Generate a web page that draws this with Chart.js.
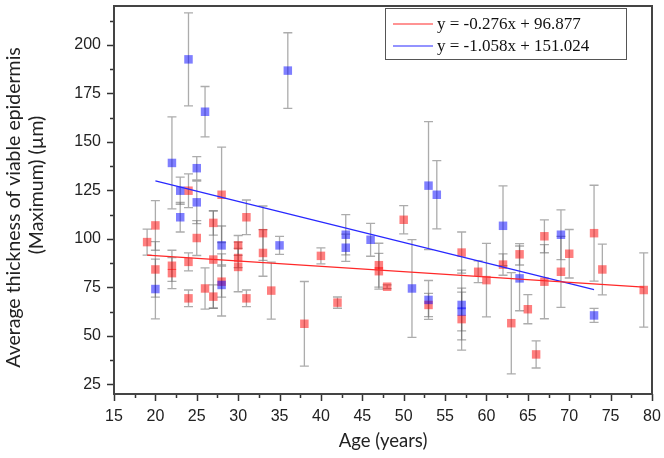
<!DOCTYPE html>
<html><head><meta charset="utf-8">
<script src="https://cdn.jsdelivr.net/npm/chart.js@4/dist/chart.umd.min.js"></script>
<style>html,body{margin:0;padding:0;background:#fff;}#wrap{width:664px;height:458px;}</style>
</head><body>
<div id="wrap"><canvas id="c" width="664" height="458"></canvas></div>
<script>
// ---- data ----
const redAges   = [19,20,20,22,22,24,24,24,25,26,27,27,27,28,28,30,30,30,31,31,33,33,34,38,40,42,47,47,48,50,53,57,57,59,60,62,63,64,65,66,67,67,69,70,73,74,79];
const redValues = [98.3,106.9,84.2,86.1,82.3,124.8,88.1,69.3,100.4,74.4,108.2,89.3,70.2,122.7,77.9,96.6,90.1,85.5,111.1,69.3,102.9,92.7,73.3,56.2,91.2,67.1,86.4,83.3,75.3,109.8,65.9,92.9,58.6,83.0,78.7,86.7,56.5,92.0,63.7,40.4,101.3,77.9,83.0,92.3,102.9,84.2,73.6];
const redErrors = [6.7,12.8,14.3,8,8,8.7,4.6,4.3,9,10.6,6.3,25,6,24.6,8,5.1,5,12.8,8.9,4.3,14,12,14.7,21.8,4.1,2.9,11.3,9.2,1,7.3,6,10.6,16,5.6,18.9,5.5,26.1,5.5,7.5,7,8.5,19.1,18.3,12.5,24.7,13.1,19.1];

const blueAges   = [20,22,23,23,24,25,25,26,28,28,35,36,43,43,46,51,53,53,54,57,57,62,64,69,73];
const blueValues = [74.1,139.1,124.8,111.1,192.5,136.4,118.8,165.5,96.6,76.2,96.6,186.7,102.1,95.4,99.5,74.4,127.4,68.5,122.7,65.9,62.5,106.7,79.6,102.1,60.5];
const blueErrors = [15.4,23.7,7,7.6,24,6,11,13,10,16,4.6,19.5,10.4,7,8.5,25.2,33,10,17.6,18,10,20.6,16.7,12.8,3.6];

const fitSlopes     = [-0.276, -1.058];
const fitIntercepts = [96.877, 151.024];
const fitStart      = [19, 20];
const fitEnd        = [79, 73];
const fitLabels     = ['y = -0.276x + 96.877', 'y = -1.058x + 151.024'];

const xTickValues = [15,20,25,30,35,40,45,50,55,60,65,70,75,80];
const yTickValues = [25,50,75,100,125,150,175,200];
const xTitle = 'Age (years)';
const yTitle = ['Average thickness of viable epidermis   ', '      (Maximum) (µm)'];

// ---- styles ----
const RED = 'rgba(255,0,0,0.5)', BLUE = 'rgba(0,0,255,0.5)';
const LINE_RED = 'rgb(255,40,40)', LINE_BLUE = 'rgb(40,40,255)';

const pts = (xs, ys) => xs.map((a, i) => ({x: a, y: ys[i]}));
const fitPts = k => [fitStart[k], fitEnd[k]].map(a => ({x: a, y: fitSlopes[k] * a + fitIntercepts[k]}));

const errorBars = {
  id: 'errorBars',
  beforeDatasetsDraw(chart) {
    const {ctx, scales: {x, y}, chartArea: ca} = chart;
    ctx.save();
    ctx.beginPath(); ctx.rect(ca.left, ca.top, ca.width, ca.height); ctx.clip();
    ctx.strokeStyle = 'rgba(90,90,90,0.5)';
    ctx.lineWidth = 1.3;
    const draw = (ages, vals, errs) => {
      ages.forEach((a, i) => {
        const px = x.getPixelForValue(a);
        const t = y.getPixelForValue(vals[i] + errs[i]);
        const b = y.getPixelForValue(vals[i] - errs[i]);
        ctx.beginPath();
        ctx.moveTo(px, t); ctx.lineTo(px, b);
        ctx.moveTo(px - 4.5, t); ctx.lineTo(px + 4.5, t);
        ctx.moveTo(px - 4.5, b); ctx.lineTo(px + 4.5, b);
        ctx.stroke();
      });
    };
    draw(redAges, redValues, redErrors);
    draw(blueAges, blueValues, blueErrors);
    ctx.restore();
  }
};

const frameAndTicks = {
  id: 'frameAndTicks',
  afterDraw(chart) {
    const {ctx, scales: {x, y}, chartArea: ca} = chart;
    ctx.save();
    ctx.strokeStyle = '#333';
    ctx.lineWidth = 1.5;
    ctx.beginPath();
    for (let v = x.min; v <= x.max + 1e-6; v += 2.5) {
      const px = Math.round(x.getPixelForValue(v)) + 0.5;
      const len = (Math.abs(v % 5) < 1e-6) ? 7 : 4;
      ctx.moveTo(px, ca.bottom); ctx.lineTo(px, ca.bottom + len);
    }
    for (let v = 25; v <= y.max + 1e-6; v += 12.5) {
      const py = Math.round(y.getPixelForValue(v)) + 0.5;
      const len = (Math.abs(v % 25) < 1e-6) ? 7 : 4;
      ctx.moveTo(ca.left, py); ctx.lineTo(ca.left - len, py);
    }
    ctx.stroke();
    ctx.strokeStyle = '#444';
    ctx.lineWidth = 2;
    ctx.strokeRect(ca.left, ca.top, ca.width, ca.height);
    // legend
    const lx = 385.5, ly = 8.5, lw = 241, lh = 51;
    ctx.fillStyle = '#fff';
    ctx.fillRect(lx, ly, lw, lh);
    ctx.lineWidth = 1;
    ctx.strokeStyle = '#555';
    ctx.strokeRect(lx, ly, lw, lh);
    const cols = [LINE_RED, LINE_BLUE];
    const rows = [24, 46];
    ctx.font = '17px "Liberation Serif", "Times New Roman", serif';
    ctx.textBaseline = 'middle';
    ctx.textAlign = 'left';
    rows.forEach((ry, k) => {
      ctx.strokeStyle = cols[k];
      ctx.lineWidth = 1.2;
      ctx.beginPath(); ctx.moveTo(393, ry); ctx.lineTo(433, ry); ctx.stroke();
      ctx.fillStyle = '#111';
      ctx.fillText(fitLabels[k], 437, ry + 1);
    });
    ctx.restore();
  }
};

new Chart(document.getElementById('c'), {
  type: 'scatter',
  data: {
    datasets: [
      {type: 'line', data: fitPts(0), borderColor: LINE_RED, borderWidth: 1.3, pointRadius: 0, fill: false, order: 1},
      {type: 'line', data: fitPts(1), borderColor: LINE_BLUE, borderWidth: 1.3, pointRadius: 0, fill: false, order: 1},
      {data: pts(blueAges, blueValues), backgroundColor: BLUE, borderWidth: 0, pointStyle: 'rect', pointRadius: 6, order: 2},
      {data: pts(redAges, redValues), backgroundColor: RED, borderWidth: 0, pointStyle: 'rect', pointRadius: 6, order: 2}
    ]
  },
  options: {
    responsive: false,
    animation: false,
    devicePixelRatio: 1,
    events: [],
    layout: {padding: {top: 2, right: 12, left: 0, bottom: 0}},
    plugins: {legend: {display: false}, tooltip: {enabled: false}},
    scales: {
      x: {
        type: 'linear', min: 15, max: 80,
        afterBuildTicks: s => { s.ticks = xTickValues.map(v => ({value: v})); },
        afterFit: s => { s.height = 64; s.paddingLeft = 0; s.paddingRight = 0; },
        grid: {display: true, drawOnChartArea: false, drawTicks: true, tickLength: 7, color: 'rgba(0,0,0,0)'},
        border: {display: false},
        ticks: {autoSkip: false, maxRotation: 0, padding: 6, color: '#222',
                font: {family: '"Liberation Sans", Arial, sans-serif', size: 16}},
        title: {display: true, text: xTitle, color: '#222', padding: {top: 0, bottom: 6},
                font: {family: 'Lato, "Open Sans", sans-serif', size: 18.5}}
      },
      y: {
        type: 'linear', min: 20, max: 220,
        afterBuildTicks: s => { s.ticks = yTickValues.map(v => ({value: v})); },
        afterFit: s => { s.width = 114; s.paddingTop = 0; s.paddingBottom = 0; },
        grid: {display: true, drawOnChartArea: false, drawTicks: true, tickLength: 7, color: 'rgba(0,0,0,0)'},
        border: {display: false},
        ticks: {autoSkip: false, padding: 6, color: '#222',
                font: {family: '"Liberation Sans", Arial, sans-serif', size: 16}},
        title: {display: true, text: yTitle, color: '#222', padding: {top: 2.5, bottom: 0},
                font: {family: 'Lato, "Open Sans", sans-serif', size: 19.5, lineHeight: 1.18}}
      }
    }
  },
  plugins: [errorBars, frameAndTicks]
});
</script>
</body></html>
